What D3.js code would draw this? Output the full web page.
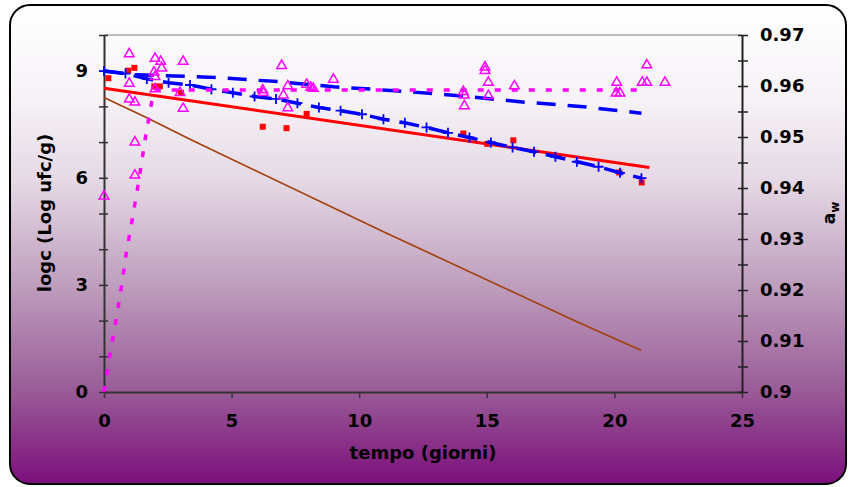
<!DOCTYPE html>
<html>
<head>
<meta charset="utf-8">
<script src="https://cdn.jsdelivr.net/npm/d3@7/dist/d3.min.js"></script>
<style>
  html, body { margin: 0; padding: 0; background: #ffffff; }
  svg { display: block; }
  text { font-family: "DejaVu Sans", Verdana, sans-serif; font-weight: bold; fill: #000; }
</style>
</head>
<body>
<svg id="chart" width="849" height="487"></svg>
<script>
// ---- data ----
const dayTicks = [0, 5, 10, 15, 20, 25];
const logcTicks = [0, 3, 6, 9];
const awTicks = [0.9, 0.91, 0.92, 0.93, 0.94, 0.95, 0.96, 0.97];

// measured log counts (red squares)
const obsDays = [0.17, 0.95, 1.19, 1.97, 2.19, 3.02, 6.22, 7.15, 7.94, 14.08, 15.02, 16.04, 20.19, 21.07];
const obsLogc = [8.79, 9.0, 9.08, 8.56, 8.56, 8.38, 7.43, 7.39, 7.79, 7.24, 6.95, 7.05, 6.15, 5.87];

// linear regression of the measured counts (red line)
const fitDays = [0, 21.37];
const fitLogc = [8.51, 6.29];

// predicted counts, model A (blue dashed with crosses)
const modelDays = [0, 0.84, 1.68, 2.53, 3.37, 4.21, 5.05, 5.9, 6.74, 7.58, 8.42, 9.27, 10.11,
                   10.95, 11.79, 12.64, 13.48, 14.32, 15.16, 16.01, 16.85, 17.69, 18.53, 19.38, 20.22, 21.06];
const modelLogc = [8.99, 8.92, 8.77, 8.66, 8.60, 8.48, 8.38, 8.28, 8.21, 8.09, 7.97, 7.88, 7.78,
                   7.64, 7.54, 7.41, 7.26, 7.13, 6.99, 6.85, 6.73, 6.59, 6.45, 6.31, 6.14, 5.99];

// predicted counts, model B (blue long dashes)
const modelBDays = [0, 1.2, 4.1, 6.9, 9.0, 11.4, 13.9, 16.3, 18.8, 21.06];
const modelBLogc = [8.99, 8.89, 8.82, 8.69, 8.55, 8.44, 8.30, 8.13, 7.99, 7.81];

// predicted counts, model C (brown line)
const modelCDays = [0, 1.68, 3.37, 10.95, 18.53, 21.06];
const modelCLogc = [8.25, 7.68, 7.08, 4.49, 1.97, 1.16];

// measured water activity (magenta triangles)
const awDays = [0, 0.99, 0.99, 0.99, 1.21, 1.21, 1.21, 2.0, 1.96, 2.0, 2.0, 2.22, 2.26, 2.98, 3.1, 3.1,
                6.22, 6.24, 6.96, 7.03, 7.2, 7.2, 7.94, 8.1, 8.2, 8.99, 14.08, 14.12, 14.12, 14.93, 14.93,
                15.06, 15.06, 16.08, 20.09, 20.07, 20.22, 21.09, 21.27, 21.27, 21.98];
const awObs = [0.9384, 0.9663, 0.9605, 0.9574, 0.9568, 0.9490, 0.9425, 0.9654, 0.9627, 0.9618, 0.9594,
               0.9648, 0.9635, 0.9587, 0.9648, 0.9556, 0.9592, 0.9587, 0.9640, 0.9582, 0.9600, 0.9557,
               0.9603, 0.9597, 0.9595, 0.9613, 0.9589, 0.9582, 0.9561, 0.9637, 0.9630, 0.9607, 0.9581,
               0.9600, 0.9607, 0.9586, 0.9586, 0.9607, 0.9641, 0.9607, 0.9607];

// water activity model (magenta dotted)
const awModelDays = [0, 0.23, 0.47, 0.68, 0.87, 1.11, 1.33, 1.63, 1.87, 2.0, 21.0];
const awModel = [0.9, 0.9073, 0.9141, 0.9205, 0.9272, 0.9339, 0.9404, 0.9501, 0.9569, 0.9592, 0.9592];

// ---- layout ----
const svg = d3.select("#chart");
const x = d3.scaleLinear().domain([0, 25]).range([104, 742]);
const yL = d3.scaleLinear().domain([0, 10]).range([392, 35]);
const yR = d3.scaleLinear().domain([0.9, 0.97]).range([392, 35]);

// background panel with vertical gradient
const defs = svg.append("defs");
const grad = defs.append("linearGradient").attr("id", "bg")
  .attr("x1", 0).attr("y1", 0).attr("x2", 0).attr("y2", 1);
[[0, "#ffffff"], [0.2, "#f6f2f6"], [0.37, "#e4d8e4"], [0.58, "#bf9fbe"], [0.8, "#9a5d98"], [1, "#7c0f7b"]]
  .forEach(([o, c]) => grad.append("stop").attr("offset", o).attr("stop-color", c));

svg.append("rect")
  .attr("x", 10).attr("y", 5).attr("width", 836).attr("height", 479)
  .attr("rx", 20).attr("ry", 20)
  .attr("fill", "url(#bg)").attr("stroke", "#000").attr("stroke-width", 2);

// top border of plot area
svg.append("line")
  .attr("x1", x(0)).attr("x2", x(25)).attr("y1", yL(10)).attr("y2", yL(10))
  .attr("stroke", "#808080").attr("stroke-width", 1.2);

// ---- axes ----
const fontSize = 18;

const xAxis = svg.append("g").attr("transform", `translate(0,${yL(0)})`)
  .call(d3.axisBottom(x).tickValues(dayTicks).tickSize(6).tickSizeOuter(0).tickPadding(16));
xAxis.select(".domain").attr("stroke", "#333").attr("stroke-width", 2);
xAxis.selectAll(".tick line").attr("stroke", "#333").attr("stroke-width", 1.5);
xAxis.selectAll("text").style("font-size", fontSize + "px");

const leftAxis = svg.append("g").attr("transform", `translate(${x(0)},0)`)
  .call(d3.axisLeft(yL).tickValues(d3.range(0, 11)).tickSize(5).tickSizeOuter(0).tickPadding(11)
    .tickFormat(d => logcTicks.includes(d) ? d : ""));
leftAxis.select(".domain").attr("stroke", "#333").attr("stroke-width", 2);
leftAxis.selectAll(".tick line").attr("x1", 4).attr("stroke", "#333").attr("stroke-width", 1.5);
leftAxis.selectAll("text").style("font-size", fontSize + "px");

const awMinor = d3.range(0, 15).map(i => +(0.9 + i * 0.005).toFixed(3));
const rightAxis = svg.append("g").attr("transform", `translate(${x(25)},0)`)
  .call(d3.axisRight(yR).tickValues(awMinor).tickSize(6).tickSizeOuter(0).tickPadding(12)
    .tickFormat(d => awTicks.some(t => Math.abs(t - d) < 1e-6) ? String(+d.toFixed(2)) : ""));
rightAxis.select(".domain").attr("stroke", "#222").attr("stroke-width", 2);
rightAxis.selectAll(".tick line").attr("x1", -4).attr("stroke", "#222").attr("stroke-width", 1.5);
rightAxis.selectAll("text").style("font-size", fontSize + "px");

// axis titles
svg.append("text")
  .attr("x", 423).attr("y", 459).attr("text-anchor", "middle")
  .style("font-size", "18px").text("tempo (giorni)");

svg.append("text")
  .attr("transform", "translate(51,213) rotate(-90)").attr("text-anchor", "middle")
  .style("font-size", "18px").text("logc (Log ufc/g)");

const awTitle = svg.append("text")
  .attr("transform", "translate(835,213) rotate(-90)").attr("text-anchor", "middle")
  .style("font-size", "17px");
awTitle.append("tspan").text("a");
awTitle.append("tspan").attr("dy", 4).style("font-size", "12px").text("w");

// ---- series ----
const pts = (xs, ys) => xs.map((d, i) => [d, ys[i]]);
const lineL = d3.line().x(d => x(d[0])).y(d => yL(d[1]));
const lineR = d3.line().x(d => x(d[0])).y(d => yR(d[1]));

// model C
svg.append("path").attr("d", lineL(pts(modelCDays, modelCLogc)))
  .attr("fill", "none").attr("stroke", "#a33f0b").attr("stroke-width", 1.6);

// measured counts
svg.append("g").selectAll("rect").data(pts(obsDays, obsLogc)).join("rect")
  .attr("x", d => x(d[0]) - 3).attr("y", d => yL(d[1]) - 3)
  .attr("width", 6).attr("height", 6).attr("fill", "#ff0000");

// regression line
svg.append("path").attr("d", lineL(pts(fitDays, fitLogc)))
  .attr("fill", "none").attr("stroke", "#ff0000").attr("stroke-width", 3);

// model B
svg.append("path").attr("d", lineL(pts(modelBDays, modelBLogc)))
  .attr("fill", "none").attr("stroke", "#0000ff").attr("stroke-width", 3.5)
  .attr("stroke-dasharray", "19,12");

// model A with crosses
svg.append("path").attr("d", lineL(pts(modelDays, modelLogc)))
  .attr("fill", "none").attr("stroke", "#0000ff").attr("stroke-width", 3.5)
  .attr("stroke-dasharray", "20,10");
svg.append("g").selectAll("path").data(pts(modelDays, modelLogc)).join("path")
  .attr("transform", d => `translate(${x(d[0])},${yL(d[1])})`)
  .attr("d", "M-5,0H5M0,-5V5").attr("stroke", "#0000ff").attr("stroke-width", 1.8).attr("fill", "none");

// water activity measurements
const tri = d3.symbol(d3.symbolTriangle, 40);
svg.append("g").selectAll("path").data(pts(awDays, awObs)).join("path")
  .attr("transform", d => `translate(${x(d[0])},${yR(d[1])})`)
  .attr("d", tri).attr("fill", "none").attr("stroke", "#ff00ff").attr("stroke-width", 1.5);

// water activity model
svg.append("path").attr("d", lineR(pts(awModelDays, awModel)))
  .attr("fill", "none").attr("stroke", "#ff00ff").attr("stroke-width", 3.5)
  .attr("stroke-dasharray", "6,11");
</script>
</body>
</html>
